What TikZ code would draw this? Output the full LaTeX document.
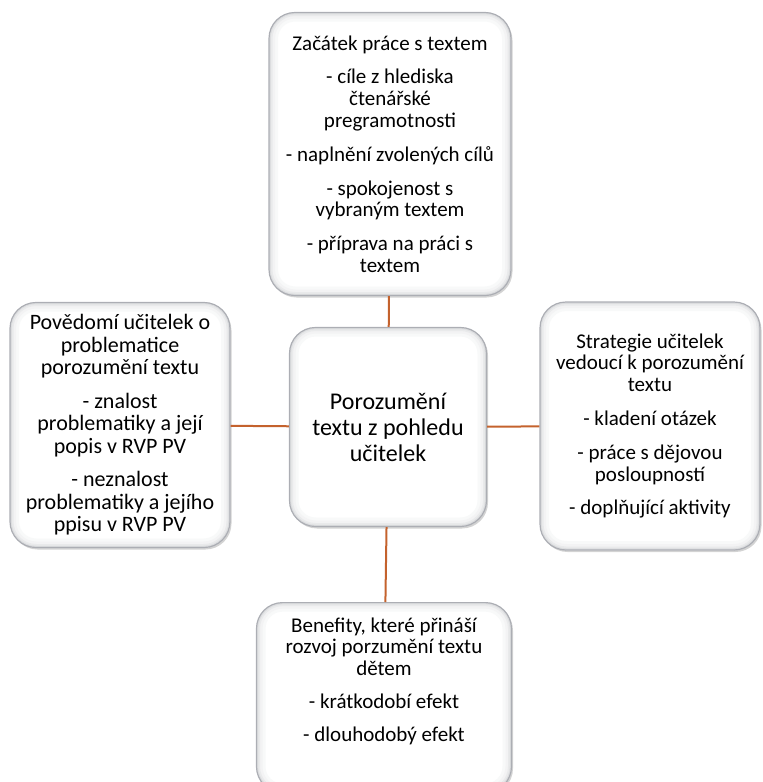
\documentclass[tikz,border=0pt]{standalone}
\usepackage{fontspec}
\setmainfont{Carlito}
\usetikzlibrary{shadows}
\definecolor{linkorange}{RGB}{196,98,45}
\definecolor{cardrim}{RGB}{172,174,180}

\begin{document}
\begin{tikzpicture}[x=1pt,y=-1pt,
  card/.style={draw=cardrim,line width=1.2pt,fill=white,rounded corners=26pt,
    align=center,inner sep=0pt,
    path picture={
      \foreach \w/\c in {18/8,12/15,7/26,3.5/42}
        \draw[line width=\w pt,draw=cardrim!\c!white,rounded corners=26pt]
          (path picture bounding box.south west) rectangle (path picture bounding box.north east);},
    drop shadow={shadow xshift=1.5pt,shadow yshift=-2pt,opacity=.35}},
  cardfont/.style={font=\fontsize{21}{21.8}\selectfont},
  link/.style={draw=linkorange,line width=2pt}]
  \useasboundingbox (0,0) rectangle (763,782);
  \node[card,cardfont,minimum width=242pt,minimum height=283pt] (zacatek) at (390,154)
    {Začátek práce s textem\\[12pt]
     - cíle z hlediska\\ čtenářské\\ pregramotnosti\\[12pt]
     - naplnění zvolených cílů\\[12pt]
     - spokojenost s\\ vybraným textem\\[12pt]
     - příprava na práci s\\ textem};
  \node[card,minimum width=197pt,minimum height=199pt,font=\fontsize{24}{26}\selectfont] (stred) at (388,427)
    {Porozumění\\ textu z pohledu\\ učitelek};
  \node[card,minimum width=220pt,minimum height=245pt,font=\fontsize{22}{22.5}\selectfont] (povedomi) at (120,425)
    {Povědomí učitelek o\\ problematice\\ porozumění textu\\[11pt]
     - znalost\\ problematiky a její\\ popis v RVP PV\\[11pt]
     - neznalost\\ problematiky a jejího\\ ppisu v RVP PV};
  \node[card,cardfont,minimum width=220pt,minimum height=248pt] (strategie) at (650,426)
    {Strategie učitelek\\ vedoucí k porozumění\\ textu\\[12pt]
     - kladení otázek\\[12pt]
     - práce s dějovou\\ posloupností\\[12pt]
     - doplňující aktivity};
  \node[card,minimum width=255pt,minimum height=190pt,anchor=north] (benefity) at (384,602) {};
  \node[cardfont,align=center] (benefitytext) at (384,681)
    {Benefity, které přináší\\ rozvoj porzumění textu\\ dětem\\[11pt]
     - krátkodobí efekt\\[11pt]
     - dlouhodobý efekt};
  \draw[link] (zacatek) -- (stred);
  \draw[link] (povedomi) -- (stred);
  \draw[link] (stred) -- (strategie);
  \draw[link] (stred) -- (benefity);
\end{tikzpicture}
\end{document}
